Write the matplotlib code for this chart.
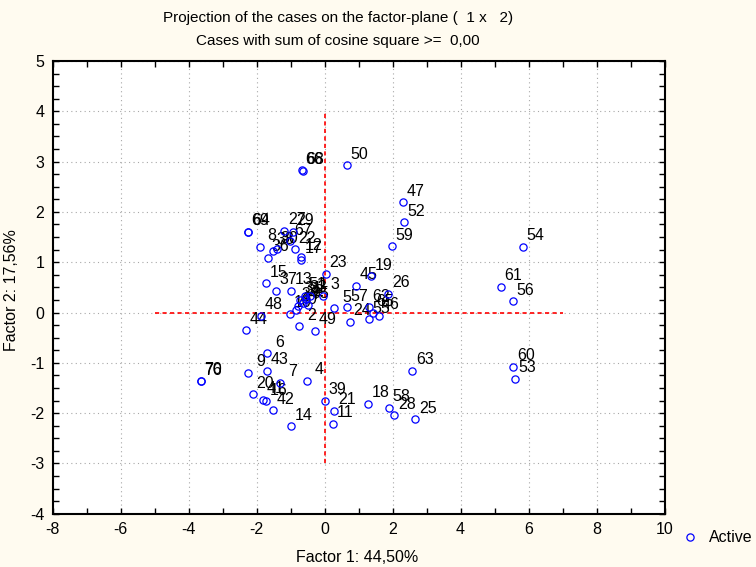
import matplotlib
matplotlib.use("Agg")
import matplotlib.pyplot as plt
from matplotlib.lines import Line2D

plt.rcParams['font.family'] = ['Liberation Sans', 'DejaVu Sans']
plt.rcParams['axes.unicode_minus'] = False

case_labels = ["50", "66", "68", "47", "52", "59", "54", "61", "56", "60",
               "53", "63", "18", "58", "28", "25", "39", "21", "11", "14",
               "42", "41", "16", "20", "9", "43", "6", "7", "4", "70",
               "76", "44", "48", "15", "37", "13", "23", "19", "45", "26",
               "5", "57", "24", "62", "55", "46", "65", "2", "49", "69",
               "64", "27", "29", "67", "8", "38", "30", "36", "22", "12",
               "17", "10", "40", "31", "32", "33", "34", "35", "1", "51", "3"]
factor1 = [0.66, -0.66, -0.64, 2.31, 2.34, 1.98, 5.84, 5.19, 5.55, 5.55,
           5.60, 2.58, 1.29, 1.90, 2.05, 2.67, 0.01, 0.29, 0.25, -0.99,
           -1.52, -1.81, -1.71, -2.11, -2.25, -1.69, -1.69, -1.32, -0.52, -3.64,
           -3.64, -2.31, -1.86, -1.71, -1.42, -0.98, 0.04, 1.36, 0.93, 1.88,
           0.29, 0.66, 0.74, 1.31, 1.31, 1.59, 1.43, -0.74, -0.29, -2.25,
           -2.24, -1.18, -0.94, -1.01, -1.91, -1.51, -1.39, -1.66, -0.88, -0.70,
           -0.69, -1.01, -0.84, -0.71, -0.63, -0.54, -0.77, -0.48, -0.42, -0.57, -0.05]
factor2 = [2.93, 2.83, 2.82, 2.19, 1.79, 1.32, 1.31, 0.51, 0.22, -1.08,
           -1.32, -1.16, -1.81, -1.89, -2.04, -2.12, -1.75, -1.95, -2.21, -2.26,
           -1.94, -1.73, -1.76, -1.63, -1.20, -1.16, -0.81, -1.40, -1.36, -1.36,
           -1.37, -0.35, -0.07, 0.58, 0.43, 0.43, 0.77, 0.72, 0.53, 0.37,
           0.08, 0.10, -0.18, 0.10, -0.13, -0.06, -0.01, -0.27, -0.36, 1.61,
           1.60, 1.63, 1.61, 1.42, 1.31, 1.23, 1.26, 1.09, 1.26, 1.11,
           1.05, -0.02, 0.04, 0.25, 0.19, 0.27, 0.13, 0.15, 0.33, 0.33, 0.33]

title_lines = ["Projection of the cases on the factor-plane (  1 x   2)",
               "Cases with sum of cosine square >=  0,00"]
xlabel = "Factor 1: 44,50%"
ylabel = "Factor 2: 17,56%"
legend_label = "Active"

W, H = 756, 567
fig = plt.figure(figsize=(W / 100, H / 100), dpi=100, facecolor='#FFFBF0')
ax = fig.add_axes([52.5 / W, 1 - 513.7 / H, (664.5 - 52.5) / W, (513.7 - 61) / H])
ax.set_facecolor('white')

ax.set_xlim(-8, 10)
ax.set_ylim(-4, 5)
ax.set_xticks(range(-8, 11, 2))
ax.set_yticks(range(-4, 6, 1))
ax.set_xticks(range(-8, 11, 1), minor=True)
ax.set_yticks([v * 0.25 for v in range(-16, 21)], minor=True)
ax.tick_params(which='both', direction='in', length=4, width=1, top=True, right=True,
               labelsize=11.5, pad=6, colors='black')
for s in ax.spines.values():
    s.set_linewidth(1.5)
    s.set_color('black')

ax.grid(True, which='major', linestyle=(0, (1, 3)), color='#A8A8A8', linewidth=0.8)
ax.set_axisbelow(True)

# reference dashed lines
ax.plot([0, 0], [-3, 4], color='#FF0000', linestyle=(0, (2.5, 2)), linewidth=1.2, zorder=2)
ax.plot([-5, 7], [0, 0], color='#FF0000', linestyle=(0, (2.5, 2)), linewidth=1.2, zorder=2)

for lab, xv, yv in zip(case_labels, factor1, factor2):
    ax.annotate(lab, (xv, yv), xytext=(9, 4.7), textcoords='offset points',
                ha='center', va='baseline', fontsize=11.5, color='black', zorder=3)

ax.plot(factor1, factor2, linestyle='none', marker='o', markersize=5.2,
        markerfacecolor='none', markeredgecolor='#0000FF', markeredgewidth=0.9, zorder=4)

fig.text(338 / W, 1 - 18 / H, title_lines[0], ha='center', va='center', fontsize=11)
fig.text(338 / W, 1 - 41 / H, title_lines[1], ha='center', va='center', fontsize=11)
fig.text(357 / W, 1 - 557 / H, xlabel, ha='center', va='center', fontsize=11.5)
fig.text(12 / W, 1 - 290 / H, ylabel, ha='center', va='center', fontsize=11.5, rotation=90)

handle = Line2D([], [], linestyle='none', marker='o', markersize=5.2,
                markerfacecolor='none', markeredgecolor='#0000FF', markeredgewidth=0.9)
fig.legend([handle], [legend_label], loc='center left', bbox_to_anchor=(672 / W, 1 - 538 / H),
           frameon=False, fontsize=11.5, handlelength=1.2, handletextpad=0.6, borderpad=0)

fig.savefig('out.png', dpi=100, facecolor=fig.get_facecolor())
